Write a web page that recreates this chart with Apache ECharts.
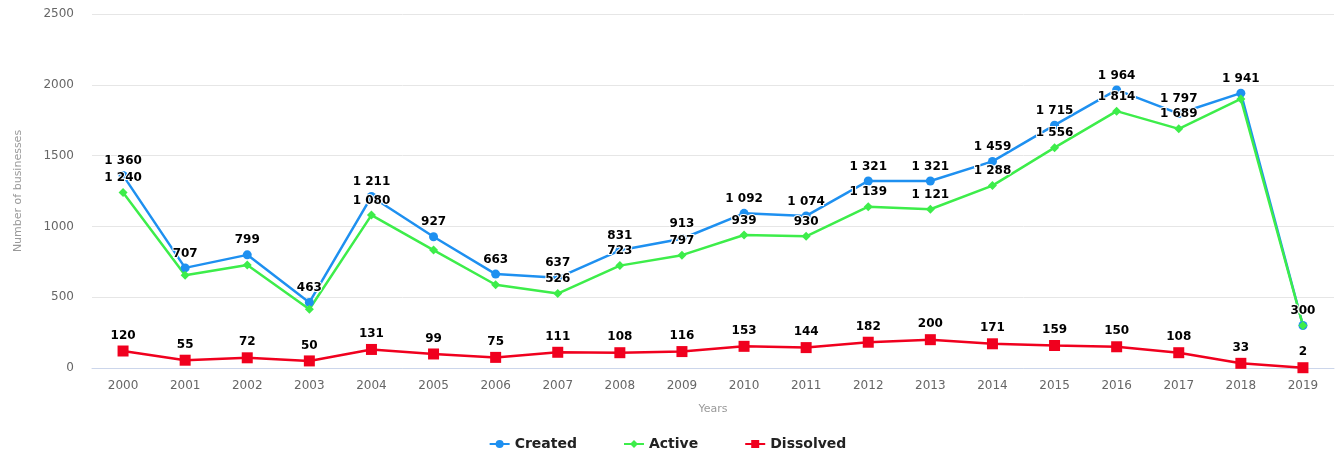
<!DOCTYPE html>
<html>
<head>
<meta charset="utf-8">
<script src="https://cdn.jsdelivr.net/npm/echarts@6/dist/echarts.min.js"></script>
<style>
  html, body { margin: 0; padding: 0; background: #fff; }
  #chart { width: 1335px; height: 456px; }
</style>
</head>
<body>
<div id="chart"></div>
<script>
const years = ['2000', '2001', '2002', '2003', '2004', '2005', '2006', '2007', '2008', '2009',
               '2010', '2011', '2012', '2013', '2014', '2015', '2016', '2017', '2018', '2019'];
const created = [1360, 707, 799, 463, 1211, 927, 663, 637, 831, 913,
                 1092, 1074, 1321, 1321, 1459, 1715, 1964, 1797, 1941, 300];
const active = [1240, 655, 728, 415, 1080, 833, 588, 526, 723, 797,
                939, 930, 1139, 1121, 1288, 1556, 1814, 1689, 1900, 300];
const dissolved = [120, 55, 72, 50, 131, 99, 75, 111, 108, 116,
                   153, 144, 182, 200, 171, 159, 150, 108, 33, 2];
// labels the original hid because they overlapped
const activeHiddenLabels = [1, 2, 3, 5, 6, 18, 19];

const fmt = v => String(v).replace(/\B(?=(\d{3})+(?!\d))/g, ' ');

const labelStyle = {
    show: true,
    position: 'top',
    distance: 4,
    fontFamily: 'DejaVu Sans',
    fontWeight: 'bold',
    fontSize: 12,
    color: '#000',
    textBorderColor: '#fff',
    textBorderWidth: 2,
    formatter: p => fmt(p.value)
};

const chart = echarts.init(document.getElementById('chart'));

chart.setOption({
    animation: false,
    grid: { left: 92, right: 1, top: 14, bottom: 88 },
    legend: {
        bottom: 0,
        left: 'center',
        itemGap: 46,
        itemWidth: 20,
        itemHeight: 10,
        textStyle: { fontFamily: 'DejaVu Sans', fontWeight: 'bold', fontSize: 14, color: '#222' },
        data: ['Created', 'Active', 'Dissolved']
    },
    xAxis: {
        type: 'category',
        data: years,
        boundaryGap: true,
        name: 'Years',
        nameLocation: 'middle',
        nameGap: 36,
        nameTextStyle: { color: '#999', fontSize: 11, fontFamily: 'DejaVu Sans' },
        axisLine: { lineStyle: { color: '#ccd6eb' } },
        axisTick: { show: false },
        axisLabel: { color: '#666', fontSize: 12, margin: 12, fontFamily: 'DejaVu Sans' }
    },
    yAxis: {
        type: 'value',
        min: 0,
        max: 2500,
        interval: 500,
        name: 'Number of businesses',
        nameLocation: 'middle',
        nameGap: 68,
        nameTextStyle: { color: '#999', fontSize: 11, fontFamily: 'DejaVu Sans' },
        axisLine: { show: false },
        axisTick: { show: false },
        axisLabel: {
            color: '#666', fontSize: 12, margin: 18, fontFamily: 'DejaVu Sans',
            formatter: v => String(v)
        },
        splitLine: { lineStyle: { color: '#e6e6e6' } }
    },
    series: [
        {
            name: 'Created',
            type: 'line',
            data: created,
            symbol: 'circle',
            symbolSize: 9,
            itemStyle: { color: '#1e90f0' },
            lineStyle: { width: 2.5 },
            label: labelStyle
        },
        {
            name: 'Active',
            type: 'line',
            data: active.map((v, i) => activeHiddenLabels.includes(i)
                ? { value: v, label: { show: false } } : v),
            symbol: 'diamond',
            symbolSize: 9,
            itemStyle: { color: '#3ded4a' },
            lineStyle: { width: 2.5 },
            label: labelStyle
        },
        {
            name: 'Dissolved',
            type: 'line',
            data: dissolved,
            symbol: 'rect',
            symbolSize: 11,
            itemStyle: { color: '#f0001e' },
            lineStyle: { width: 2.5 },
            label: labelStyle
        }
    ]
});
</script>
</body>
</html>
